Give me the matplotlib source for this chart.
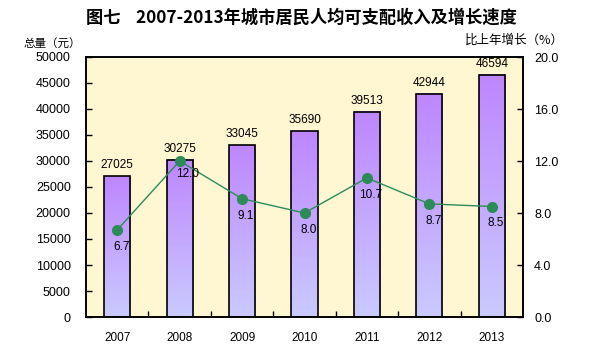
import numpy as np
import matplotlib
matplotlib.use("Agg")
import matplotlib.pyplot as plt
from matplotlib.colors import LinearSegmentedColormap
from matplotlib.patches import Rectangle

plt.rcParams['font.family'] = ['Liberation Sans', 'Noto Sans CJK SC', 'DejaVu Sans']

years = ['2007', '2008', '2009', '2010', '2011', '2012', '2013']
income = [27025, 30275, 33045, 35690, 39513, 42944, 46594]
growth = [6.7, 12.0, 9.1, 8.0, 10.7, 8.7, 8.5]
left_ticks = [0, 5000, 10000, 15000, 20000, 25000, 30000, 35000, 40000, 45000, 50000]
right_ticks = [0.0, 4.0, 8.0, 12.0, 16.0, 20.0]

title = '图七    2007-2013年城市居民人均可支配收入及增长速度'
left_label = '总量（元）'
right_label = '比上年增长（%）'

W, H = 604, 353
fig = plt.figure(figsize=(W / 100, H / 100), dpi=100)
ax = fig.add_axes([86 / W, 1 - 317 / H, (523 - 86) / W, (317 - 57) / H])
ax.set_facecolor('#FFF7D2')

x = np.arange(len(years))
bw = 0.42
cmap = LinearSegmentedColormap.from_list('g', ['#CACAFF', '#C4A8FF', '#BE86FF'])
grad = np.linspace(0, 1, 256).reshape(-1, 1)
for xi, v in zip(x, income):
    ax.imshow(grad, cmap=cmap, origin='lower', aspect='auto',
              extent=[xi - bw / 2, xi + bw / 2, 0, v], zorder=2)
    ax.add_patch(Rectangle((xi - bw / 2, 0), bw, v, fill=False,
                           edgecolor='black', linewidth=1.2, zorder=3))
    ax.annotate(f'{v}', (xi, v), xytext=(0, 11), textcoords='offset pixels',
                ha='center', va='center', fontsize=8.5, zorder=6)

ax.set_xlim(-0.5, len(years) - 0.5)
ax.set_ylim(0, 50000)
ax.set_yticks(left_ticks)
ax.set_yticklabels([str(t) for t in left_ticks], fontsize=9)
ax.set_xticks(x)
ax.set_xticklabels(years, fontsize=8.5)
ax.tick_params(axis='x', length=0, pad=11)
ax.set_xticks(np.arange(0.5, len(years) - 1, 1.0), minor=True)
ax.tick_params(axis='x', which='minor', direction='in', length=4, width=1)
ax.tick_params(axis='y', direction='in', length=4, width=1, pad=11)
for s in ax.spines.values():
    s.set_linewidth(1.2)
    s.set_color('black')

ax2 = ax.twinx()
ax2.set_ylim(0, 20)
ax2.set_yticks(right_ticks)
ax2.set_yticklabels([f'{t:.1f}' for t in right_ticks], fontsize=9)
ax2.tick_params(axis='y', direction='in', length=4, width=1, pad=8)
ax2.plot(x, growth, color='#2E8B57', linewidth=1.0, marker='o', markersize=7,
         markerfacecolor='#2E8B57', markeredgecolor='#2E8B57', zorder=5)
offsets = [(4, -17), (8, -13), (4, -17), (4, -17), (4, -17), (4, -17), (4, -17)]
for xi, g, off in zip(x, growth, offsets):
    ax2.annotate(f'{g:.1f}', (xi, g), xytext=off, textcoords='offset pixels',
                 ha='center', va='center', fontsize=8.5, zorder=6)
for s in ax2.spines.values():
    s.set_linewidth(1.2)

fig.text(301 / W, 1 - 18 / H, title, ha='center', va='center', fontsize=12.4,
         fontweight='bold', family=['Noto Sans CJK SC', 'DejaVu Sans'])
fig.text(52 / W, 1 - 44 / H, left_label, ha='center', va='center', fontsize=8.3,
         family=['Noto Sans CJK SC', 'DejaVu Sans'])
fig.text(514 / W, 1 - 40 / H, right_label, ha='center', va='center', fontsize=9,
         family=['Noto Sans CJK SC', 'DejaVu Sans'])

fig.savefig('out.png', dpi=100, facecolor='white')
